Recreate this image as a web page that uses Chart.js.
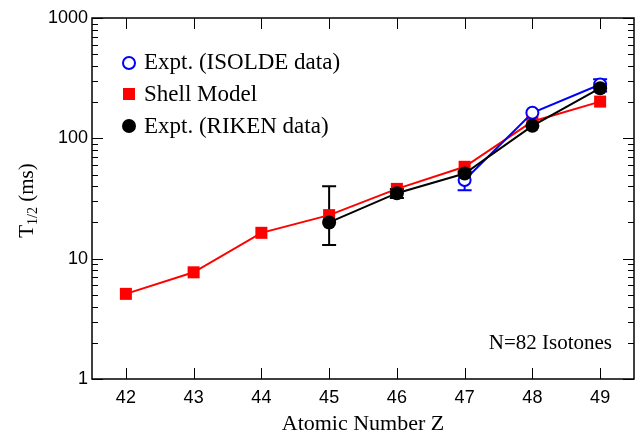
<!DOCTYPE html>
<html><head><meta charset="utf-8">
<script src="https://cdn.jsdelivr.net/npm/chart.js@4/dist/chart.umd.min.js"></script>
<style>html,body{margin:0;padding:0;background:#fff}#wrap{width:638px;height:436px}</style>
</head><body><div id="wrap"><canvas id="c" width="638" height="436"></canvas></div>
<script>
// ---- data ----
const zValues = [42, 43, 44, 45, 46, 47, 48, 49];
const shellModel = [5.1, 7.7, 16.4, 23, 38, 58, 138, 202];
const isoldeZ = [47, 48, 49];
const isoldeT = [45, 163, 280];
const isoldeLow = [37, 163, 245];
const isoldeHigh = [53, 163, 310];
const rikenZ = [45, 46, 47, 48, 49];
const rikenT = [20, 35, 51, 127, 261];
const rikenLow = [13, 32, 51, 127, 261];
const rikenHigh = [40, 38, 51, 127, 261];
const yTickLabels = [1, 10, 100, 1000];
const seriesNames = ['Expt. (ISOLDE data)', 'Shell Model', 'Expt. (RIKEN data)'];
const annotationText = 'N=82 Isotones';
const xTitle = 'Atomic Number Z';
const yTitleMain = 'T', yTitleSub = '1/2', yTitleUnit = ' (ms)';

const SERIF = '"Liberation Serif", "Times New Roman", serif';
const SANS = '"Liberation Sans", Arial, sans-serif';

function pts(xs, ys) { return xs.map((x, i) => ({ x: x, y: ys[i] })); }

const decorPlugin = {
  id: 'decor',
  beforeDatasetsDraw(chart) {
    const ctx = chart.ctx, xs = chart.scales.x, ys = chart.scales.y;
    const bars = [
      { z: isoldeZ, lo: isoldeLow, hi: isoldeHigh, color: '#0000ff' },
      { z: rikenZ, lo: rikenLow, hi: rikenHigh, color: '#000000' }
    ];
    ctx.save();
    ctx.lineWidth = 2;
    bars.forEach(b => {
      ctx.strokeStyle = b.color;
      b.z.forEach((z, i) => {
        if (b.lo[i] === b.hi[i]) return;
        const px = xs.getPixelForValue(z);
        const pl = ys.getPixelForValue(b.lo[i]);
        const ph = ys.getPixelForValue(b.hi[i]);
        ctx.beginPath();
        ctx.moveTo(px, pl); ctx.lineTo(px, ph);
        ctx.moveTo(px - 7, pl); ctx.lineTo(px + 7, pl);
        ctx.moveTo(px - 7, ph); ctx.lineTo(px + 7, ph);
        ctx.stroke();
      });
    });
    ctx.restore();
  },
  afterDraw(chart) {
    const ctx = chart.ctx, a = chart.chartArea, xs = chart.scales.x, ys = chart.scales.y;
    ctx.save();
    ctx.strokeStyle = '#000';
    ctx.lineWidth = 1.5;
    ctx.strokeRect(a.left, a.top, a.right - a.left, a.bottom - a.top);
    ctx.lineWidth = 1;
    ctx.beginPath();
    zValues.forEach(z => {
      const px = Math.round(xs.getPixelForValue(z)) + 0.5;
      ctx.moveTo(px, a.bottom); ctx.lineTo(px, a.bottom - 11);
      ctx.moveTo(px, a.top); ctx.lineTo(px, a.top + 11);
    });
    for (let d = 0; d < yTickLabels.length; d++) {
      const base = yTickLabels[d];
      const py = Math.round(ys.getPixelForValue(base)) + 0.5;
      ctx.moveTo(a.left, py); ctx.lineTo(a.left + 11, py);
      ctx.moveTo(a.right, py); ctx.lineTo(a.right - 11, py);
      if (d < yTickLabels.length - 1) {
        for (let k = 2; k <= 9; k++) {
          const my = Math.round(ys.getPixelForValue(base * k)) + 0.5;
          ctx.moveTo(a.left, my); ctx.lineTo(a.left + 6, my);
          ctx.moveTo(a.right, my); ctx.lineTo(a.right - 6, my);
        }
      }
    }
    ctx.stroke();

    ctx.fillStyle = '#000';
    ctx.font = '22px ' + SERIF;
    ctx.textAlign = 'center';
    ctx.textBaseline = 'alphabetic';
    ctx.fillText(xTitle, (a.left + a.right) / 2, 430);

    ctx.save();
    ctx.translate(33, (a.top + a.bottom) / 2 + 2);
    ctx.rotate(-Math.PI / 2);
    ctx.textAlign = 'left';
    const fMain = '21px ' + SERIF, fSub = '14px ' + SERIF;
    ctx.font = fMain; const w1 = ctx.measureText(yTitleMain).width;
    const w3 = ctx.measureText(yTitleUnit).width;
    ctx.font = fSub; const w2 = ctx.measureText(yTitleSub).width;
    let x0 = -(w1 + w2 + w3) / 2;
    ctx.font = fMain; ctx.fillText(yTitleMain, x0, 0);
    ctx.font = fSub; ctx.fillText(yTitleSub, x0 + w1, 4);
    ctx.font = fMain; ctx.fillText(yTitleUnit, x0 + w1 + w2, 0);
    ctx.restore();

    const lx = 129, tx = 144, rows = [69, 101, 133];
    ctx.font = '23px ' + SERIF;
    ctx.textAlign = 'left';
    ctx.textBaseline = 'alphabetic';
    ctx.beginPath(); ctx.arc(lx, rows[0] - 6, 6, 0, Math.PI * 2);
    ctx.fillStyle = '#fff'; ctx.fill();
    ctx.strokeStyle = '#0000ff'; ctx.lineWidth = 2; ctx.stroke();
    ctx.fillStyle = '#000'; ctx.fillText(seriesNames[0], tx, rows[0]);
    ctx.fillStyle = '#ff0000'; ctx.fillRect(lx - 6, rows[1] - 13, 12, 12);
    ctx.fillStyle = '#000'; ctx.fillText(seriesNames[1], tx, rows[1]);
    ctx.beginPath(); ctx.arc(lx, rows[2] - 7, 7, 0, Math.PI * 2);
    ctx.fillStyle = '#000'; ctx.fill();
    ctx.fillText(seriesNames[2], tx, rows[2]);

    ctx.font = '21px ' + SERIF;
    ctx.textAlign = 'right';
    ctx.fillText(annotationText, 612, 349);
    ctx.restore();
  }
};

new Chart(document.getElementById('c'), {
  type: 'line',
  data: {
    datasets: [
      { label: seriesNames[2], data: pts(rikenZ, rikenT), borderColor: '#000', backgroundColor: '#000',
        borderWidth: 2, pointStyle: 'circle', pointRadius: 7, pointBorderWidth: 0, order: 0 },
      { label: seriesNames[0], data: pts(isoldeZ, isoldeT), borderColor: '#0000ff', backgroundColor: '#fff',
        borderWidth: 2, pointStyle: 'circle', pointRadius: 6, pointBorderWidth: 2, order: 1 },
      { label: seriesNames[1], data: pts(zValues, shellModel), borderColor: '#ff0000', backgroundColor: '#ff0000',
        borderWidth: 2, pointStyle: 'rect', pointRadius: 8.5, pointBorderWidth: 0, order: 2 }
    ]
  },
  options: {
    responsive: false,
    animation: false,
    layout: { autoPadding: false, padding: { top: 18, right: 4, left: 0, bottom: 0 } },
    plugins: { legend: { display: false }, tooltip: { enabled: false } },
    scales: {
      x: {
        type: 'linear', min: 41.5, max: 49.5,
        afterBuildTicks: s => { s.ticks = zValues.map(v => ({ value: v })); },
        afterFit: s => { s.height = 57; },
        grid: { display: false, drawTicks: false }, border: { display: false },
        ticks: { font: { family: SANS, size: 18 }, color: '#000', padding: 8, maxRotation: 0, autoSkip: false,
                 callback: v => String(v) }
      },
      y: {
        type: 'logarithmic', min: 1, max: 1000,
        afterBuildTicks: s => { s.ticks = yTickLabels.map(v => ({ value: v })); },
        afterFit: s => { s.width = 92; },
        grid: { display: false, drawTicks: false }, border: { display: false },
        ticks: { font: { family: SANS, size: 18 }, color: '#000', padding: 4, autoSkip: false,
                 callback: v => String(v) }
      }
    }
  },
  plugins: [decorPlugin]
});
</script>
</body></html>
